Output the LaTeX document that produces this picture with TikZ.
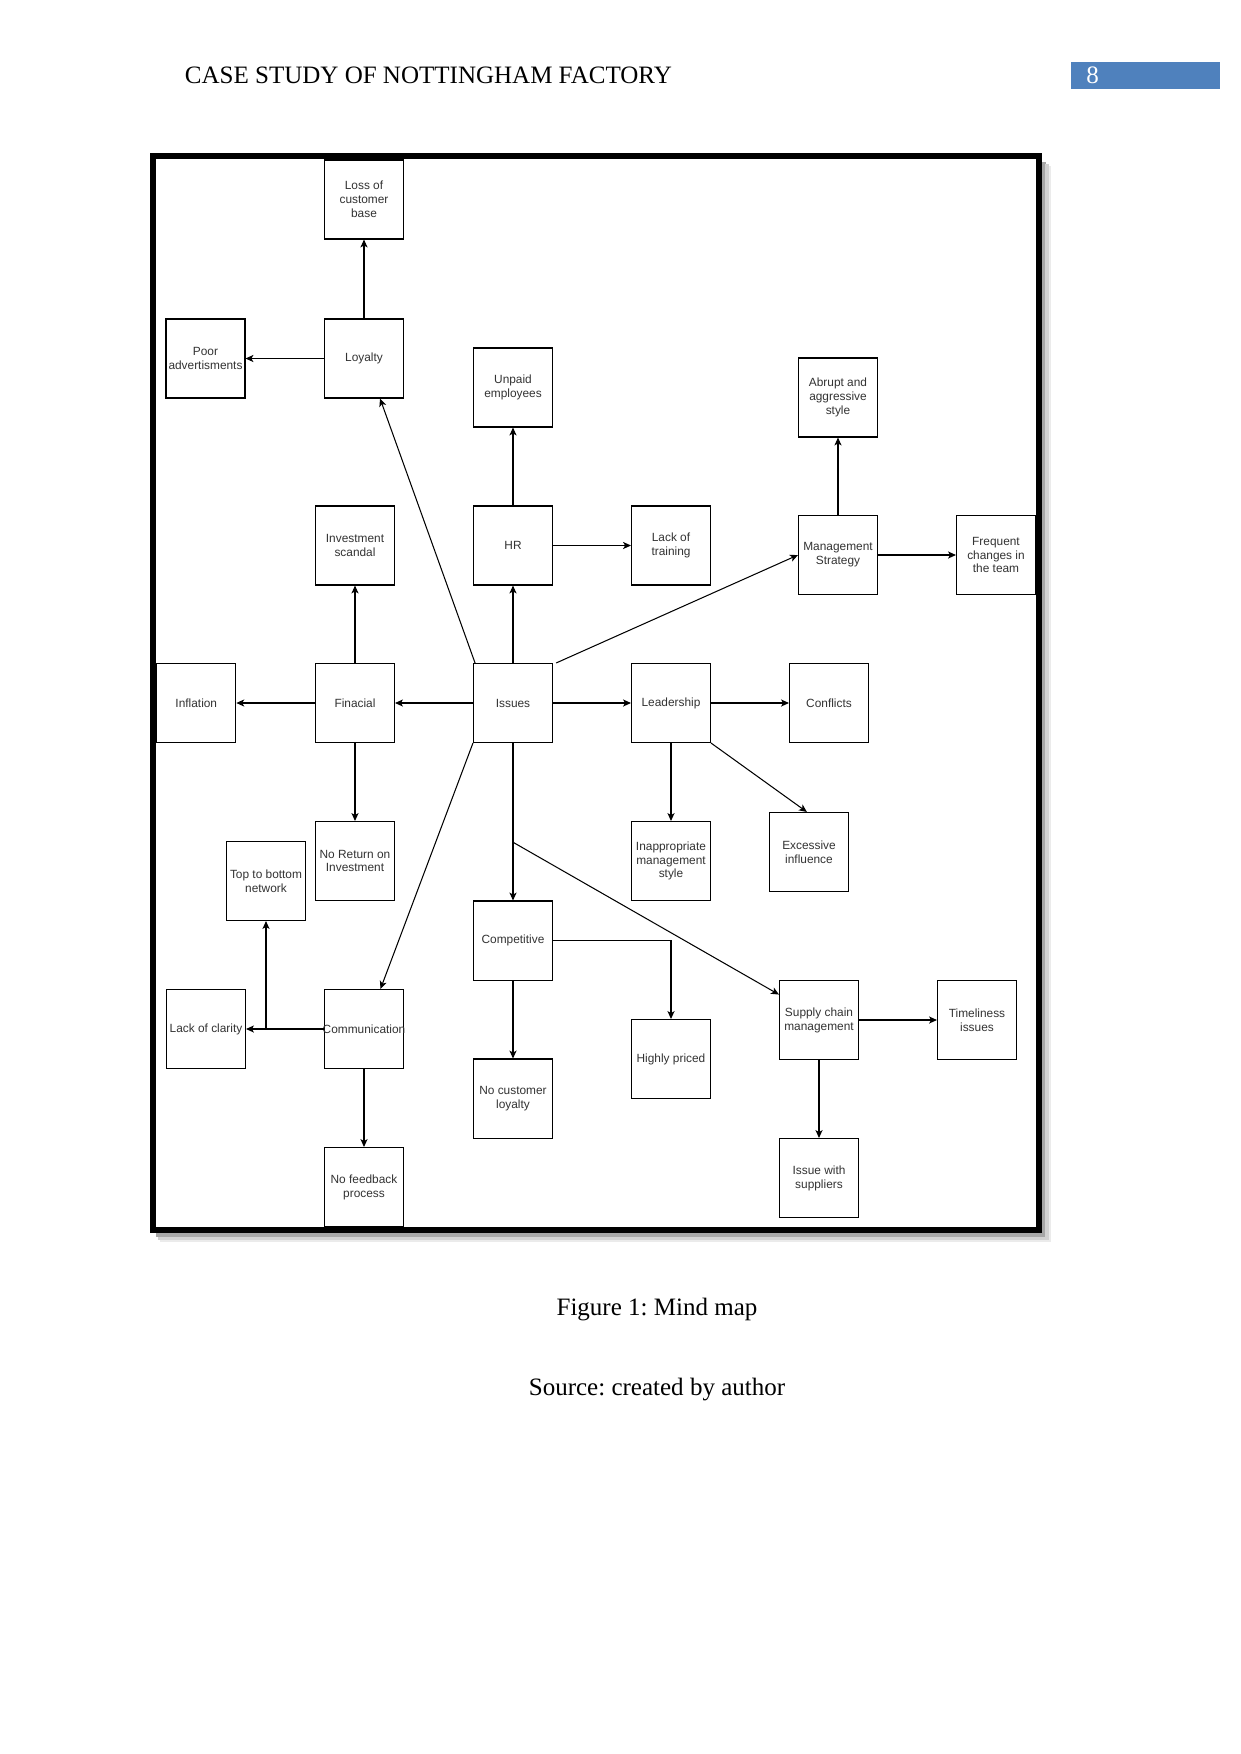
\documentclass[tikz,border=0pt]{standalone}
\usepackage{fontspec}
\setmainfont{Liberation Serif}
\newfontfamily\diafont{Liberation Sans}
\usetikzlibrary{arrows.meta,calc}
\definecolor{txtgray}{RGB}{51,51,51}
\definecolor{pgblue}{RGB}{79,129,189}
\frenchspacing
\begin{document}
\begin{tikzpicture}[x=0.47967pt,y=-0.47967pt,
  box/.style={draw, line width=0.5pt, minimum width=37.9pt, minimum height=37.9pt,
    inner sep=0pt, align=center, text=txtgray,
    font={\diafont\fontsize{5.7}{6.65}\selectfont}},
  arr/.style={line width=0.5pt, -{Stealth[length=3.8pt,width=3.4pt,inset=1pt]}},
  serif12/.style={font={\fontsize{12}{14}\selectfont}, inner sep=0pt}]
\useasboundingbox (0,0) rectangle (1241,1754);
\fill[white] (0,0) rectangle (1241,1754);
% header
\node[serif12, anchor=base west] (hdr) at (184.5,83) {CASE STUDY OF NOTTINGHAM FACTORY};
\node[fill=pgblue, anchor=north west, minimum width=71.5pt, minimum height=12.9pt, inner sep=0pt] (pgbox) at (1071,61.5) {};
\node[serif12, anchor=base west, text=white] (pgnum) at (1086,83) {8};
% frame shadow and frame
\draw[line width=2pt, black!35] (1043.8,162) -- (1043.8,1234.8) -- (156,1234.8);
\draw[line width=1.6pt, black!18] (1047,164) -- (1047,1238.2) -- (158,1238.2);
\draw[line width=1.2pt, black!8] (1049.8,166) -- (1049.8,1241) -- (160,1241);
\draw[line width=2.8pt] (152.8,156.2) rectangle (1038.9,1229.7);
% boxes
\node[box] (loss) at (364,199.5) {Loss of\\customer\\base};
\node[box] (poor) at (205.5,358.5) {Poor\\advertisments};
\node[box] (loyalty) at (364,358.5) {Loyalty};
\node[box] (unpaid) at (513,387.5) {Unpaid\\employees};
\node[box] (abrupt) at (838,397.5) {Abrupt and\\aggressive\\style};
\node[box] (invest) at (355,545.5) {Investment\\scandal};
\node[box] (hr) at (513,545.5) {HR};
\node[box] (training) at (671,545.5) {Lack of\\training};
\node[box] (mgmt) at (838,555) {Management\\Strategy};
\node[box] (frequent) at (996,555) {Frequent\\changes in\\the team};
\node[box] (inflation) at (196.3,703) {Inflation};
\node[box] (finacial) at (355,703) {Finacial};
\node[box] (issues) at (513,703) {Issues};
\node[box] (leader) at (671,703) {Leadership};
\node[box] (conflicts) at (829,703) {Conflicts};
\node[box] (excessive) at (809,852) {Excessive\\influence};
\node[box] (noreturn) at (355,861) {No Return on\\Investment};
\node[box] (inappr) at (671,861) {Inappropriate\\management\\style};
\node[box] (ttb) at (266,881) {Top to bottom\\network};
\node[box] (comp) at (513,940.5) {Competitive};
\node[box] (supply) at (819,1020) {Supply chain\\management};
\node[box] (timely) at (977,1020) {Timeliness\\issues};
\node[box] (clarity) at (206,1029) {Lack of clarity};
\node[box] (comm) at (364,1029) {\makebox[0pt][c]{Communication}};
\node[box] (highly) at (671,1059) {Highly priced};
\node[box] (nocust) at (513,1098.5) {No customer\\loyalty};
\node[box] (suppliers) at (819,1178) {Issue with\\suppliers};
\node[box] (feedback) at (364,1187) {No feedback\\process};
% connectors
\draw[arr] (loyalty) -- (loss);
\draw[arr] (loyalty) -- (poor);
\draw[arr] ([xshift=1pt]issues.north west) -- ([xshift=7.7pt]loyalty.south);
\draw[arr] (issues) -- (hr);
\draw[arr] (hr) -- (unpaid);
\draw[arr] (hr) -- (training);
\draw[arr] ([xshift=1.5pt]issues.north east) -- (mgmt.west);
\draw[arr] (mgmt) -- (abrupt);
\draw[arr] (mgmt) -- (frequent);
\draw[arr] (issues) -- (finacial);
\draw[arr] (finacial) -- (inflation);
\draw[arr] (finacial) -- (invest);
\draw[arr] (finacial) -- (noreturn);
\draw[arr] (issues) -- (leader);
\draw[arr] (leader) -- (conflicts);
\draw[arr] (leader) -- (inappr);
\draw[arr] (leader.south east) -- ([xshift=-1pt]excessive.north);
\draw[arr] (issues) -- (comp);
\coordinate (br) at ($(issues.south)!0.63!(comp.north)$);
\draw[arr] (br) -- ([yshift=-7pt]supply.north west);
\draw[arr] (issues.south west) -- ([xshift=7.9pt]comm.north);
\draw[arr] (comp) -- (nocust);
\draw[arr] (comp.east) -| (highly.north);
\draw[arr] (supply) -- (timely);
\draw[arr] (supply) -- (suppliers);
\draw[arr] (comm.west) -- (clarity.east);
\draw[arr] (comm.west) -| (ttb.south);
\draw[arr] (comm) -- (feedback);
% captions
\node[serif12, anchor=base] (cap) at (657,1315) {Figure 1: Mind map};
\node[serif12, anchor=base] (src) at (657,1395) {Source: created by author};
\end{tikzpicture}
\end{document}
